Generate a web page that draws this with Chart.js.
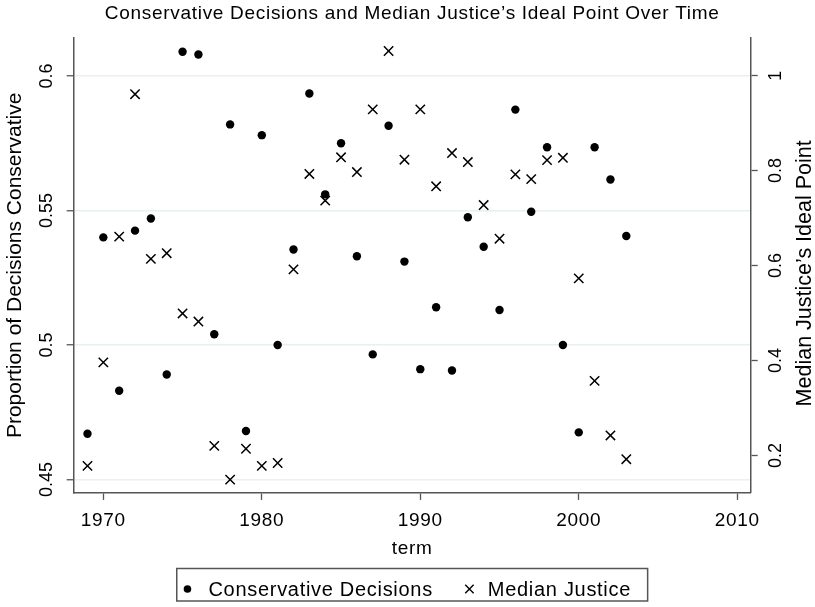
<!DOCTYPE html>
<html>
<head>
<meta charset="utf-8">
<script src="https://cdn.jsdelivr.net/npm/chart.js@4/dist/chart.umd.min.js"></script>
<style>
html,body{margin:0;padding:0;background:#fff;}
canvas{display:block;}
</style>
</head>
<body>
<canvas id="c" width="815" height="607"></canvas>
<script>
const terms = [1969,1970,1971,1972,1973,1974,1975,1976,1977,1978,1979,1980,1981,1982,1983,1984,1985,1986,1987,1988,1989,1990,1991,1992,1993,1994,1995,1996,1997,1998,1999,2000,2001,2002,2003];
const conservativeDecisions = [0.467,0.540,0.483,0.5425,0.547,0.489,0.609,0.608,0.504,0.582,0.468,0.578,0.500,0.5355,0.5935,0.556,0.575,0.533,0.4965,0.5815,0.531,0.491,0.514,0.4905,0.5475,0.5365,0.513,0.5875,0.5495,0.5735,0.500,0.4675,0.5735,0.5615,0.5405];
const medianJustice = [0.178,0.396,0.661,0.961,0.614,0.626,0.499,0.482,0.220,0.149,0.214,0.178,0.184,0.592,0.793,0.737,0.828,0.797,0.929,1.052,0.823,0.929,0.767,0.837,0.818,0.7275,0.6565,0.792,0.782,0.822,0.827,0.573,0.357,0.242,0.192];
const xTicks = [1970,1980,1990,2000,2010];
const leftTicks = [0.45,0.5,0.55,0.6];
const rightTicks = [0.2,0.4,0.6,0.8,1];
const leftTickLabels = ['0.45','0.5','0.55','0.6'];
const rightTickLabels = ['0.2','0.4','0.6','0.8','1'];
const leftTitle = 'Proportion of Decisions Conservative';
const rightTitle = 'Median Justice\u2019s Ideal Point';
const seriesNames = ['Conservative Decisions', 'Median Justice'];

const FONT = "'Liberation Sans', Arial, Helvetica, sans-serif";
const AXIS = '#555555';
const SPACING = '0.7px';

const spacingPlugin = {
  id: 'spacing',
  beforeUpdate(chart) { chart.ctx.letterSpacing = SPACING; },
  beforeDraw(chart) { chart.ctx.letterSpacing = SPACING; }
};

function vText(ctx, text, x, y) {
  ctx.save();
  ctx.translate(x, y);
  ctx.rotate(-Math.PI / 2);
  ctx.fillText(text, 0, 0);
  ctx.restore();
}

const customText = {
  id: 'customText',
  afterDraw(chart) {
    const ctx = chart.ctx;
    const ca = chart.chartArea;
    const yl = chart.scales.y, yr = chart.scales.y2;
    ctx.save();
    ctx.fillStyle = '#000';
    ctx.textAlign = 'center';
    ctx.textBaseline = 'middle';
    ctx.letterSpacing = '0px';
    ctx.font = `18px ${FONT}`;
    leftTicks.forEach((v, i) => vText(ctx, leftTickLabels[i], ca.left - 27, yl.getPixelForValue(v)));
    rightTicks.forEach((v, i) => vText(ctx, rightTickLabels[i], ca.right + 25, yr.getPixelForValue(v)));
    ctx.font = `21px ${FONT}`;
    const cy = (ca.top + ca.bottom) / 2;
    vText(ctx, leftTitle, ca.left - 58, cy);
    ctx.font = `21.5px ${FONT}`;
    vText(ctx, rightTitle, ca.right + 54, cy + 8);

    // legend
    ctx.font = `20px ${FONT}`;
    ctx.letterSpacing = SPACING;
    const w1 = ctx.measureText(seriesNames[0]).width;
    const w2 = ctx.measureText(seriesNames[1]).width;
    const padL = 10.7, g1 = 21, g2 = 36.6, g3 = 18.4, padR = 16.6;
    const total = padL + g1 + w1 + g2 + g3 + w2 + padR;
    const cx = (ca.left + ca.right) / 2;
    const bx = cx - total / 2;
    const by = 568.5, bh = 32.5;
    ctx.strokeStyle = AXIS;
    ctx.lineWidth = 1.5;
    ctx.strokeRect(bx, by, total, bh);
    const my = 589;
    const m1 = bx + padL;
    ctx.fillStyle = '#000';
    ctx.beginPath();
    ctx.arc(m1, my, 3.8, 0, Math.PI * 2);
    ctx.fill();
    ctx.textAlign = 'left';
    ctx.textBaseline = 'alphabetic';
    ctx.fillText(seriesNames[0], m1 + g1, 596);
    const m2 = m1 + g1 + w1 + g2;
    ctx.strokeStyle = '#000';
    ctx.lineWidth = 1.4;
    const d = 4.2;
    ctx.beginPath();
    ctx.moveTo(m2 - d, my - d); ctx.lineTo(m2 + d, my + d);
    ctx.moveTo(m2 - d, my + d); ctx.lineTo(m2 + d, my - d);
    ctx.stroke();
    ctx.fillText(seriesNames[1], m2 + g3, 596);
    ctx.restore();
  }
};

new Chart(document.getElementById('c'), {
  type: 'scatter',
  data: {
    datasets: [
      {
        label: seriesNames[0],
        data: terms.map((t, i) => ({x: t, y: conservativeDecisions[i]})),
        yAxisID: 'y',
        pointStyle: 'circle',
        pointRadius: 4.2,
        backgroundColor: '#000',
        borderColor: '#000',
        borderWidth: 0
      },
      {
        label: seriesNames[1],
        data: terms.map((t, i) => ({x: t, y: medianJustice[i]})),
        yAxisID: 'y2',
        pointStyle: 'crossRot',
        pointRadius: 6.6,
        backgroundColor: '#000',
        borderColor: '#000',
        borderWidth: 1.5
      }
    ]
  },
  options: {
    responsive: false,
    animation: false,
    layout: {padding: {left: 66.7, right: 57.3, top: 0, bottom: 46.5}},
    plugins: {
      title: {
        display: true,
        text: 'Conservative Decisions and Median Justice\u2019s Ideal Point Over Time',
        color: '#000',
        font: {family: FONT, size: 19, weight: 'normal'},
        padding: {top: 2, bottom: 13}
      },
      legend: {display: false},
      tooltip: {enabled: false}
    },
    scales: {
      x: {
        type: 'linear',
        min: 1968.13,
        max: 2010.85,
        afterBuildTicks: s => { s.ticks = xTicks.map(v => ({value: v})); },
        ticks: {color: '#000', font: {family: FONT, size: 19}, padding: 9, callback: v => String(v)},
        grid: {drawOnChartArea: false, drawTicks: true, tickLength: 7, tickColor: AXIS, tickWidth: 1.3},
        border: {display: true, color: AXIS, width: 1.5},
        title: {display: true, text: 'term', color: '#000', font: {family: FONT, size: 19}, padding: {top: -3, bottom: 0}}
      },
      y: {
        type: 'linear',
        position: 'left',
        min: 0.445,
        max: 0.6142,
        afterBuildTicks: s => { s.ticks = leftTicks.map(v => ({value: v})); },
        ticks: {display: false},
        grid: {color: '#e9f0f2', lineWidth: 1.5, drawTicks: true, tickLength: 7, tickColor: AXIS, tickWidth: 1.3},
        border: {display: true, color: AXIS, width: 1.5}
      },
      y2: {
        type: 'linear',
        position: 'right',
        min: 0.121,
        max: 1.0798,
        afterBuildTicks: s => { s.ticks = rightTicks.map(v => ({value: v})); },
        ticks: {display: false},
        grid: {drawOnChartArea: false, drawTicks: true, tickLength: 7, tickColor: AXIS, tickWidth: 1.3},
        border: {display: true, color: AXIS, width: 1.5}
      }
    }
  },
  plugins: [spacingPlugin, customText]
});
</script>
</body>
</html>
